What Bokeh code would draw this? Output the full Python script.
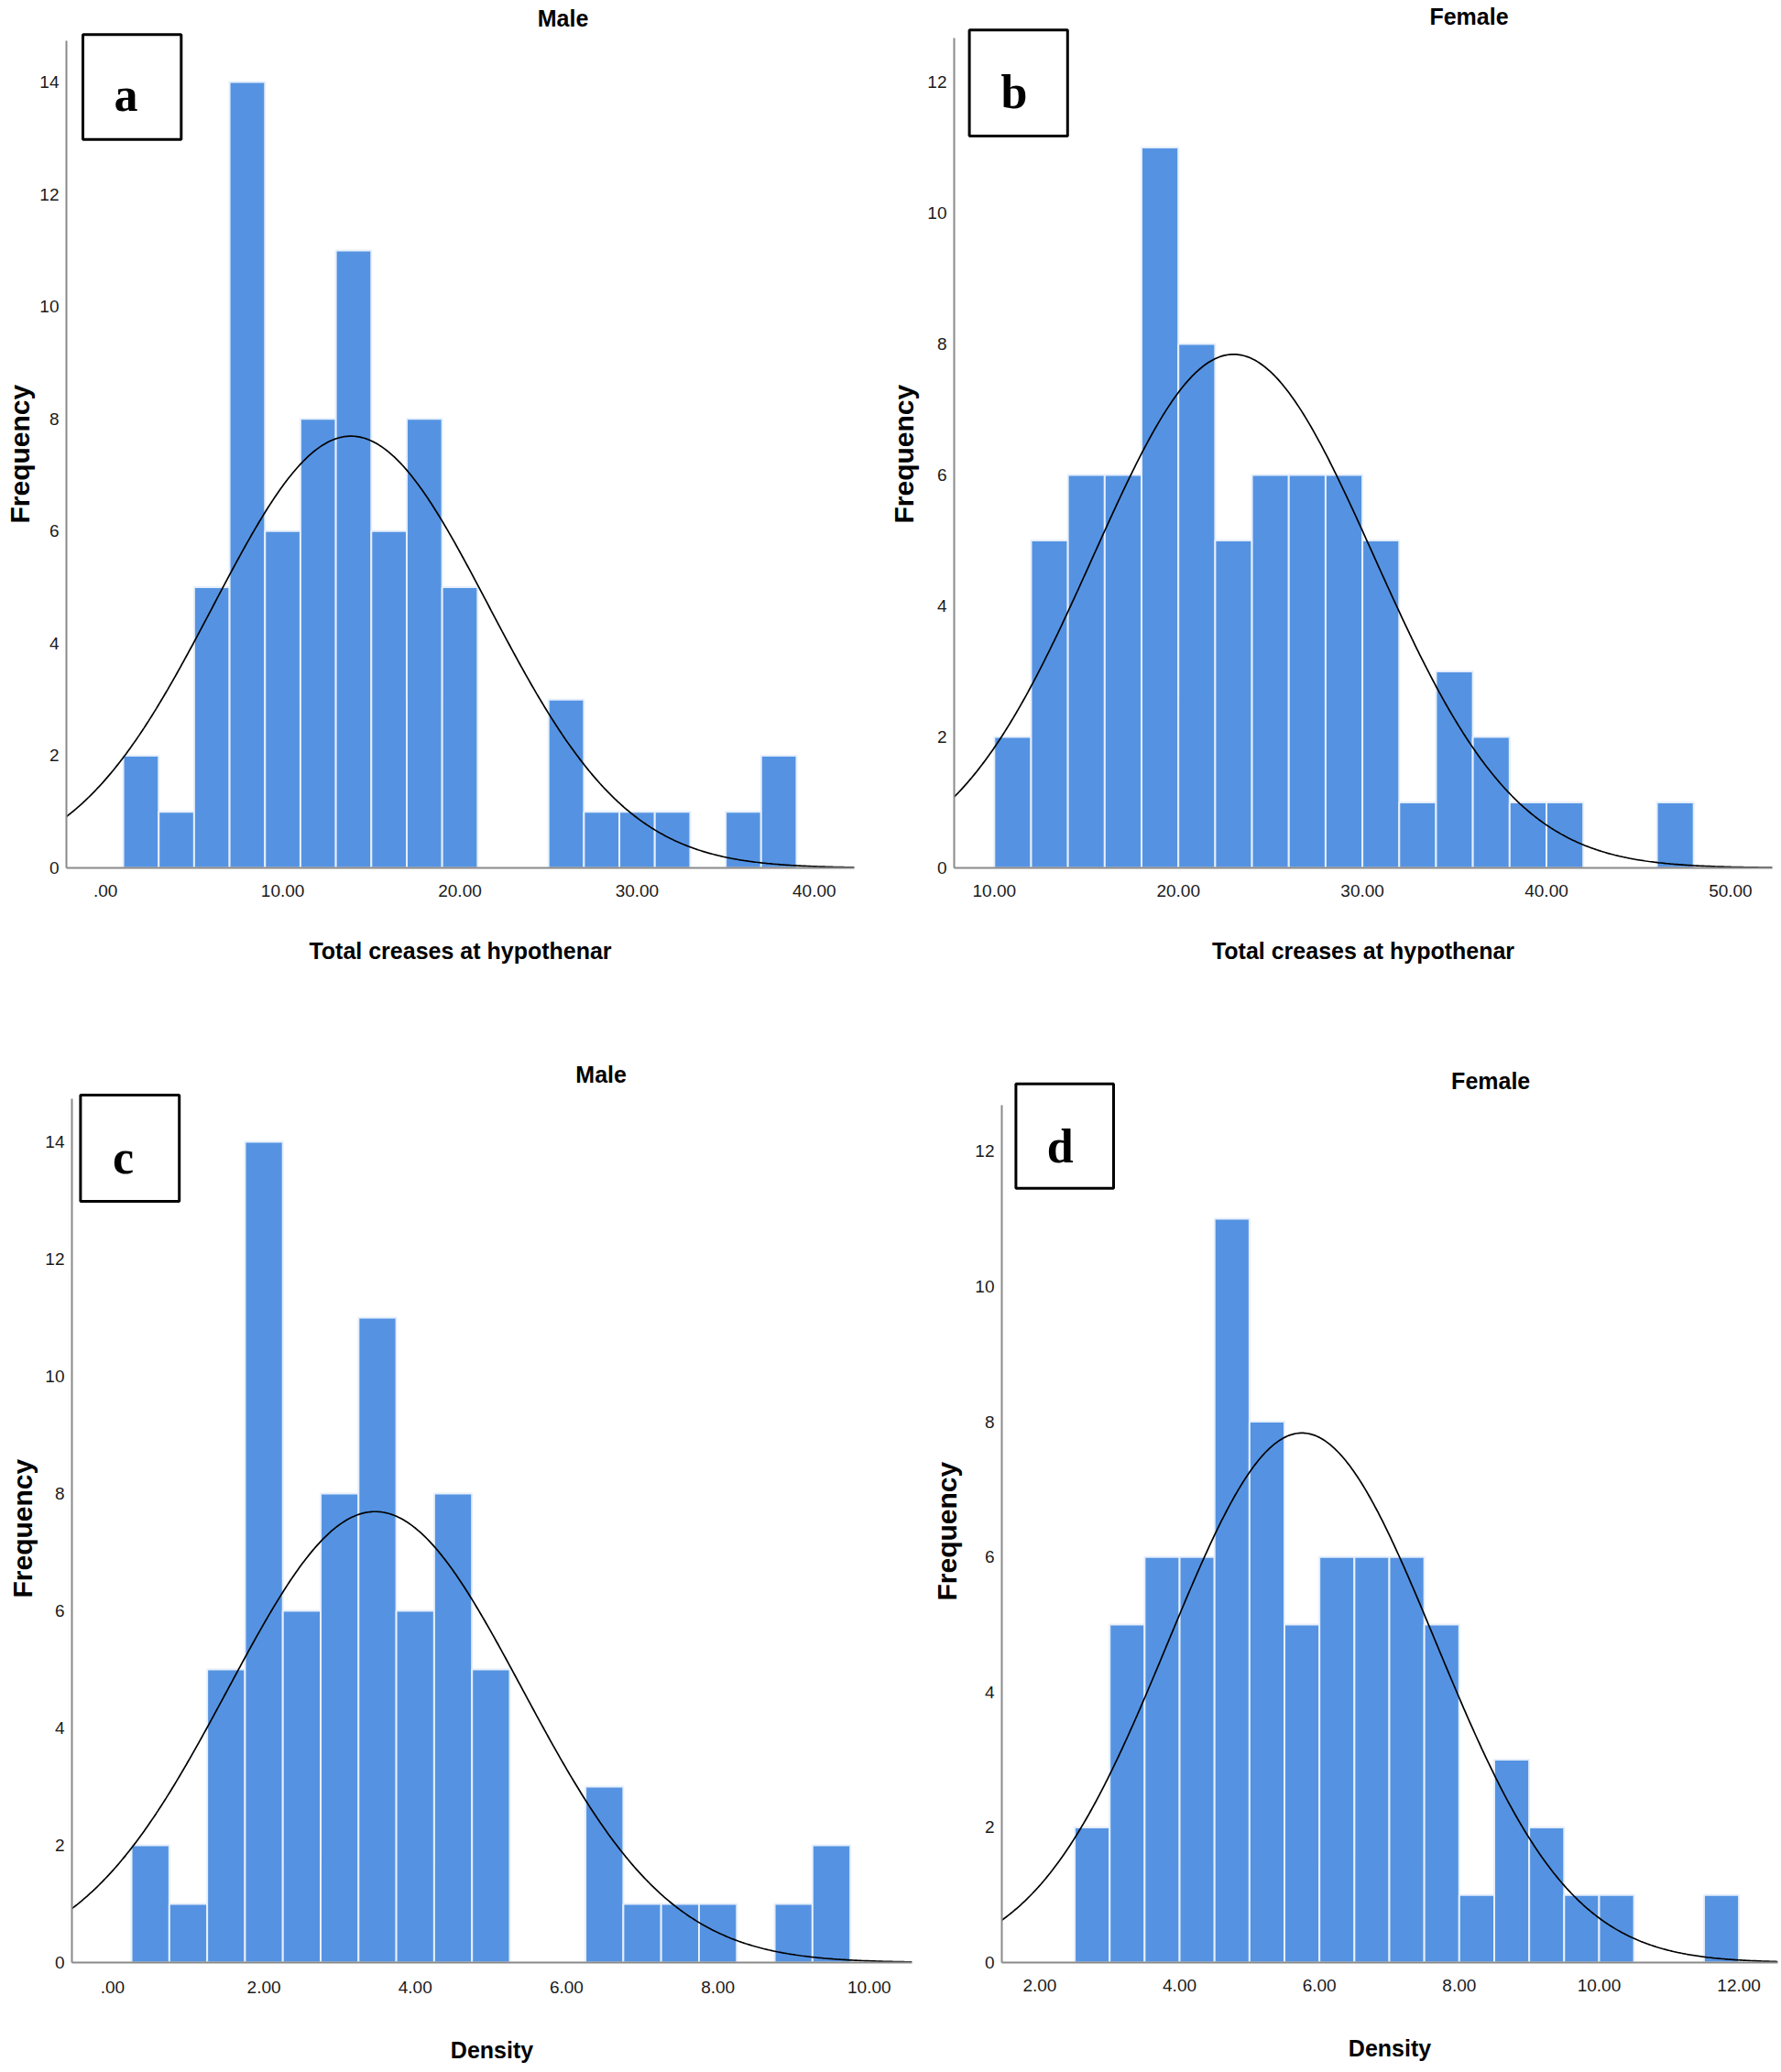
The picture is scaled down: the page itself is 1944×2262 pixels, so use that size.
import numpy as np
from bokeh.plotting import figure
from bokeh.layouts import column, row
from bokeh.models import ColumnDataSource, FixedTicker, BoxAnnotation, Label, Range1d, Title
from bokeh.embed import file_html
from bokeh.resources import INLINE

# ---------------- data ----------------
# a: Male, total creases at hypothenar
a_bin_lo = [1, 3, 5, 7, 9, 11, 13, 15, 17, 19, 21, 23, 25, 27, 29, 31, 33, 35, 37]
a_counts = [2, 1, 5, 14, 6, 8, 11, 6, 8, 5, 0, 0, 3, 1, 1, 1, 0, 1, 2]
a_bin_w = 2.0
a_fit_mean, a_fit_sd = 13.85, 7.78
a_xticks = [0, 10, 20, 30, 40]
a_xtick_labels = [".00", "10.00", "20.00", "30.00", "40.00"]
a_yticks = [0, 2, 4, 6, 8, 10, 12, 14]

# b: Female, total creases at hypothenar
b_bin_lo = [10, 12, 14, 16, 18, 20, 22, 24, 26, 28, 30, 32, 34, 36, 38, 40, 42, 44, 46]
b_counts = [2, 5, 6, 6, 11, 8, 5, 6, 6, 6, 5, 1, 3, 2, 1, 1, 0, 0, 1]
b_bin_w = 2.0
b_fit_mean, b_fit_sd = 23.0, 7.63
b_xticks = [10, 20, 30, 40, 50]
b_xtick_labels = ["10.00", "20.00", "30.00", "40.00", "50.00"]
b_yticks = [0, 2, 4, 6, 8, 10, 12]

# c: Male, density
c_bin_lo = [0.25, 0.75, 1.25, 1.75, 2.25, 2.75, 3.25, 3.75, 4.25, 4.75,
            5.25, 5.75, 6.25, 6.75, 7.25, 7.75, 8.25, 8.75, 9.25]
c_counts = [2, 1, 5, 14, 6, 8, 11, 6, 8, 5, 0, 0, 3, 1, 1, 1, 0, 1, 2]
c_bin_w = 0.5
c_fit_mean, c_fit_sd = 3.47, 1.945
c_xticks = [0, 2, 4, 6, 8, 10]
c_xtick_labels = [".00", "2.00", "4.00", "6.00", "8.00", "10.00"]
c_yticks = [0, 2, 4, 6, 8, 10, 12, 14]

# d: Female, density
d_bin_lo = [2.5, 3.0, 3.5, 4.0, 4.5, 5.0, 5.5, 6.0, 6.5, 7.0,
            7.5, 8.0, 8.5, 9.0, 9.5, 10.0, 10.5, 11.0, 11.5]
d_counts = [2, 5, 6, 6, 11, 8, 5, 6, 6, 6, 5, 1, 3, 2, 1, 1, 0, 0, 1]
d_bin_w = 0.5
d_fit_mean, d_fit_sd = 5.75, 1.91
d_xticks = [2, 4, 6, 8, 10, 12]
d_xtick_labels = ["2.00", "4.00", "6.00", "8.00", "10.00", "12.00"]
d_yticks = [0, 2, 4, 6, 8, 10, 12]

# ---------------- styles ----------------
BAR_FILL = "#5593E2"
BAR_EDGE = "#e6effb"
AXIS_GRAY = "#8a8a8a"
SANS = "Liberation Sans"
SERIF = "Liberation Serif"

# page-pixel layout of each panel: figure box, frame box, axis calibration, y-axis line top
lay_a = dict(w=960, h=1108, px=0, py=0, fl=72, fr=932, ft=0, fb=947, ytop_px=43.5,
             ref_px=114.7, ref_val=0.0, ppx=19.34, ppy=61.28,
             tick_st=18, xlab_st=42, ylab_st=4, ylab_off=376)
lay_b = dict(w=982, h=1108, px=960, py=0, fl=1041, fr=1934, ft=0, fb=947, ytop_px=40.7,
             ref_px=1084.8, ref_val=10.0, ppx=20.09, ppy=71.49,
             tick_st=18, xlab_st=42, ylab_st=12, ylab_off=376)
lay_c = dict(w=1000, h=1152, px=0, py=1108, fl=78, fr=995, ft=1108, fb=2142, ytop_px=1198.7,
             ref_px=122.4, ref_val=0.0, ppx=82.59, ppy=64.0,
             tick_st=20, xlab_st=45, ylab_st=10, ylab_off=398)
lay_d = dict(w=942, h=1152, px=1000, py=1108, fl=1093, fr=1940, ft=1108, fb=2144, ytop_px=1205.8,
             ref_px=1134.4, ref_val=2.0, ppx=76.32, ppy=73.95,
             tick_st=18, xlab_st=45, ylab_st=22, ylab_off=395)

ann_a = dict(title=(614, 19), box=(90, 37.3, 197.3, 151.7), letter=(137, 103))
ann_b = dict(title=(1603, 17), box=(1057.6, 32.3, 1164.8, 148), letter=(1106.5, 100))
ann_c = dict(title=(655.6, 1172), box=(87.4, 1195, 195.2, 1311), letter=(134, 1263))
ann_d = dict(title=(1626.7, 1179.4), box=(1108.4, 1183, 1215, 1297), letter=(1156.7, 1251))


def make_panel(bin_lo, counts, bin_w, mean, sd, xticks, xtick_labels, yticks,
               title, letter, xlabel, lay, ann):
    x0 = lay["ref_val"] + (lay["fl"] - lay["ref_px"]) / lay["ppx"]
    x1 = lay["ref_val"] + (lay["fr"] - lay["ref_px"]) / lay["ppx"]
    y1 = (lay["fb"] - lay["ft"]) / lay["ppy"]
    y_axis_top = (lay["fb"] - lay["ytop_px"]) / lay["ppy"]

    def to_data(px, py):
        return (x0 + (px - lay["fl"]) * (x1 - x0) / (lay["fr"] - lay["fl"]),
                (lay["fb"] - py) / lay["ppy"])

    p = figure(width=lay["w"], height=lay["h"],
               x_range=Range1d(x0, x1), y_range=Range1d(0, y1),
               output_backend="svg", toolbar_location=None,
               min_border_left=lay["fl"] - lay["px"],
               min_border_right=lay["px"] + lay["w"] - lay["fr"],
               min_border_top=lay["ft"] - lay["py"],
               min_border_bottom=lay["py"] + lay["h"] - lay["fb"])
    p.outline_line_color = None
    p.grid.visible = False
    p.background_fill_color = "white"
    p.border_fill_color = "white"

    keep = [i for i, c in enumerate(counts) if c > 0]
    src = ColumnDataSource(dict(
        left=[bin_lo[i] for i in keep],
        right=[bin_lo[i] + bin_w for i in keep],
        top=[counts[i] for i in keep],
        bottom=[0] * len(keep)))
    p.quad(left="left", right="right", top="top", bottom="bottom", source=src,
           fill_color=BAR_FILL, line_color=BAR_EDGE, line_width=2)

    n = sum(counts)
    xs = np.linspace(x0, x1, 500)
    ys = n * bin_w * np.exp(-0.5 * ((xs - mean) / sd) ** 2) / (sd * np.sqrt(2 * np.pi))
    p.line(xs, ys, line_color="black", line_width=1.7)

    p.xaxis.ticker = FixedTicker(ticks=xticks)
    p.xaxis.major_label_overrides = {t: s for t, s in zip(xticks, xtick_labels)}
    p.yaxis.ticker = FixedTicker(ticks=yticks)
    p.yaxis.bounds = (0, y_axis_top)
    for ax in (p.xaxis[0], p.yaxis[0]):
        ax.axis_line_color = AXIS_GRAY
        ax.axis_line_width = 2
        ax.major_tick_line_color = None
        ax.minor_tick_line_color = None
        ax.major_tick_out = 0
        ax.major_tick_in = 0
        ax.major_label_text_font = SANS
        ax.major_label_text_font_size = "19px"
        ax.major_label_text_color = "#1a1a1a"
        ax.axis_label_text_font = SANS
        ax.axis_label_text_font_style = "bold"
        ax.axis_label_text_color = "black"
    p.yaxis.major_label_standoff = 8
    p.xaxis.major_label_standoff = lay["tick_st"]
    p.xaxis.axis_label = xlabel
    p.xaxis.axis_label_text_font_size = "25px"
    p.xaxis.axis_label_standoff = lay["xlab_st"]

    # y-axis title, placed in the left panel next to the tick labels
    p.add_layout(Title(text="Frequency", align="left", offset=lay["ylab_off"],
                       vertical_align="middle", standoff=lay["ylab_st"],
                       text_font=SANS, text_font_style="bold", text_font_size="30px",
                       text_color="black"), "left")

    # panel title
    tx, ty = to_data(*ann["title"])
    p.add_layout(Label(x=tx, y=ty, text=title, text_font=SANS, text_font_style="bold",
                       text_font_size="25px", text_align="center", text_baseline="middle",
                       text_color="black"))
    # letter box
    bl, bt = to_data(ann["box"][0], ann["box"][1])
    br, bb = to_data(ann["box"][2], ann["box"][3])
    p.add_layout(BoxAnnotation(left=bl, right=br, top=bt, bottom=bb,
                               fill_color=None, fill_alpha=0,
                               line_color="black", line_width=3, line_alpha=1))
    lx, ly = to_data(*ann["letter"])
    p.add_layout(Label(x=lx, y=ly, text=letter, text_font=SERIF, text_font_style="bold",
                       text_font_size="52px", text_align="center", text_baseline="alphabetic",
                       text_color="black"))
    return p


pa = make_panel(a_bin_lo, a_counts, a_bin_w, a_fit_mean, a_fit_sd, a_xticks, a_xtick_labels,
                a_yticks, "Male", "a", "Total creases at hypothenar", lay_a, ann_a)
pb = make_panel(b_bin_lo, b_counts, b_bin_w, b_fit_mean, b_fit_sd, b_xticks, b_xtick_labels,
                b_yticks, "Female", "b", "Total creases at hypothenar", lay_b, ann_b)
pc = make_panel(c_bin_lo, c_counts, c_bin_w, c_fit_mean, c_fit_sd, c_xticks, c_xtick_labels,
                c_yticks, "Male", "c", "Density", lay_c, ann_c)
pd_ = make_panel(d_bin_lo, d_counts, d_bin_w, d_fit_mean, d_fit_sd, d_xticks, d_xtick_labels,
                 d_yticks, "Female", "d", "Density", lay_d, ann_d)

layout = column(row(pa, pb, spacing=0), row(pc, pd_, spacing=0), spacing=0)

open("out.html", "w").write(file_html(layout, INLINE))
